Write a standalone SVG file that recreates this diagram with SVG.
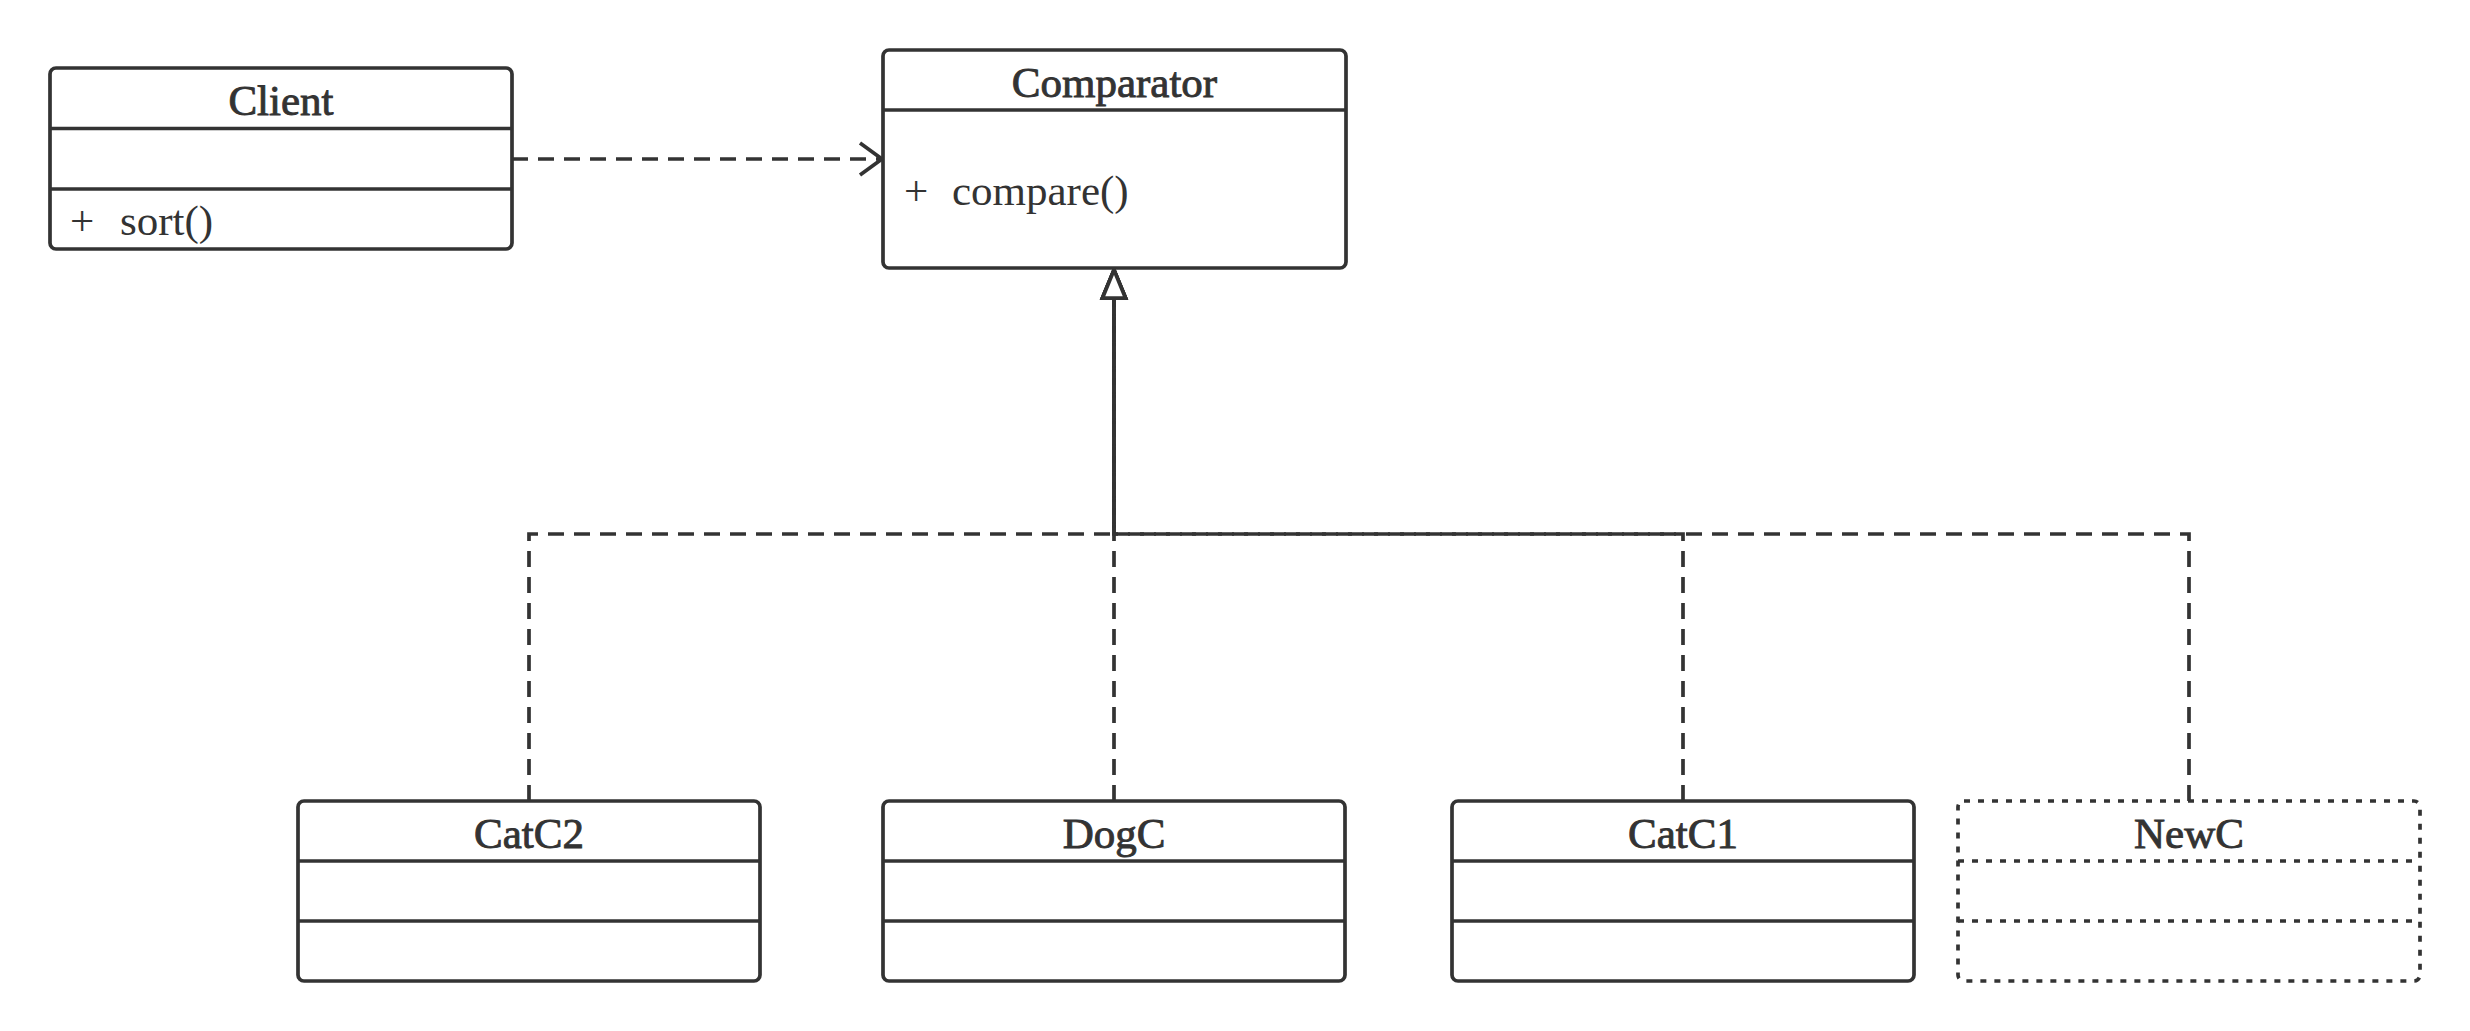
<svg xmlns="http://www.w3.org/2000/svg" width="2470" height="1031" viewBox="0 0 2470 1031">
<style>
.box{fill:#ffffff;stroke:#333333;stroke-width:3.7}
.div{stroke:#333333;stroke-width:3.7;fill:none}
.dot{stroke-dasharray:6 8}
.hdr{font-family:"Liberation Serif","Times New Roman",serif;font-size:43px;fill:#333333;stroke:#333333;stroke-width:0.9;text-anchor:middle}
.txt{font-family:"Liberation Serif","Times New Roman",serif;font-size:43px;fill:#333333}
.dash{fill:none;stroke:#333333;stroke-width:3.7;stroke-dasharray:16 10}
</style>
<defs>
<marker id="tri" markerUnits="userSpaceOnUse" viewBox="-2 -2 32 28" markerWidth="32" markerHeight="28" refX="0" refY="11.5" orient="auto" overflow="visible">
<path d="M0,0 L28,11.5 L0,23 Z" fill="#ffffff" stroke="#333333" stroke-width="3.7"/>
</marker>
<marker id="open" markerUnits="userSpaceOnUse" viewBox="-2 -2 26 36" markerWidth="26" markerHeight="36" refX="22" refY="16" orient="auto" overflow="visible">
<path d="M0,0 L22,16 L0,32" fill="none" stroke="#333333" stroke-width="3.7"/>
</marker>
</defs>
<rect width="2470" height="1031" fill="#ffffff"/>
<g id="connectors">
<path class="dash" d="M512,159 L882,159" marker-end="url(#open)"/>
<path class="dash" d="M529,801 L529,534 L1114,534 L1114,298" marker-end="url(#tri)"/>
<path class="dash" d="M1114,801 L1114,298" marker-end="url(#tri)"/>
<path class="dash" d="M1683,801 L1683,534 L1114,534 L1114,298" marker-end="url(#tri)"/>
<path class="dash" d="M2189,801 L2189,534 L1114,534 L1114,298" marker-end="url(#tri)"/>
</g>
<g id="client">
<rect class="box" x="50" y="68" width="462" height="181" rx="6"/>
<line class="div" x1="50" y1="128.5" x2="512" y2="128.5"/>
<line class="div" x1="50" y1="189" x2="512" y2="189"/>
<text class="hdr" x="281" y="115">Client</text>
<text class="txt" x="70" y="235">+</text>
<text class="txt" x="120" y="235">sort()</text>
</g>
<g id="comparator">
<rect class="box" x="883" y="50" width="463" height="218" rx="6"/>
<line class="div" x1="883" y1="110" x2="1346" y2="110"/>
<text class="hdr" x="1114.5" y="97">Comparator</text>
<text class="txt" x="904" y="205">+</text>
<text class="txt" x="952" y="205">compare()</text>
</g>
<g id="catc2">
<rect class="box" x="298" y="801" width="462" height="180" rx="6"/>
<line class="div" x1="298" y1="861" x2="760" y2="861"/>
<line class="div" x1="298" y1="921" x2="760" y2="921"/>
<text class="hdr" x="529" y="848">CatC2</text>
</g>
<g id="dogc">
<rect class="box" x="883" y="801" width="462" height="180" rx="6"/>
<line class="div" x1="883" y1="861" x2="1345" y2="861"/>
<line class="div" x1="883" y1="921" x2="1345" y2="921"/>
<text class="hdr" x="1114" y="848">DogC</text>
</g>
<g id="catc1">
<rect class="box" x="1452" y="801" width="462" height="180" rx="6"/>
<line class="div" x1="1452" y1="861" x2="1914" y2="861"/>
<line class="div" x1="1452" y1="921" x2="1914" y2="921"/>
<text class="hdr" x="1683" y="848">CatC1</text>
</g>
<g id="newc">
<rect class="box dot" x="1958" y="801" width="462" height="180" rx="6"/>
<line class="div dot" x1="1958" y1="861" x2="2420" y2="861"/>
<line class="div dot" x1="1958" y1="921" x2="2420" y2="921"/>
<text class="hdr" x="2189" y="848">NewC</text>
</g>
</svg>
